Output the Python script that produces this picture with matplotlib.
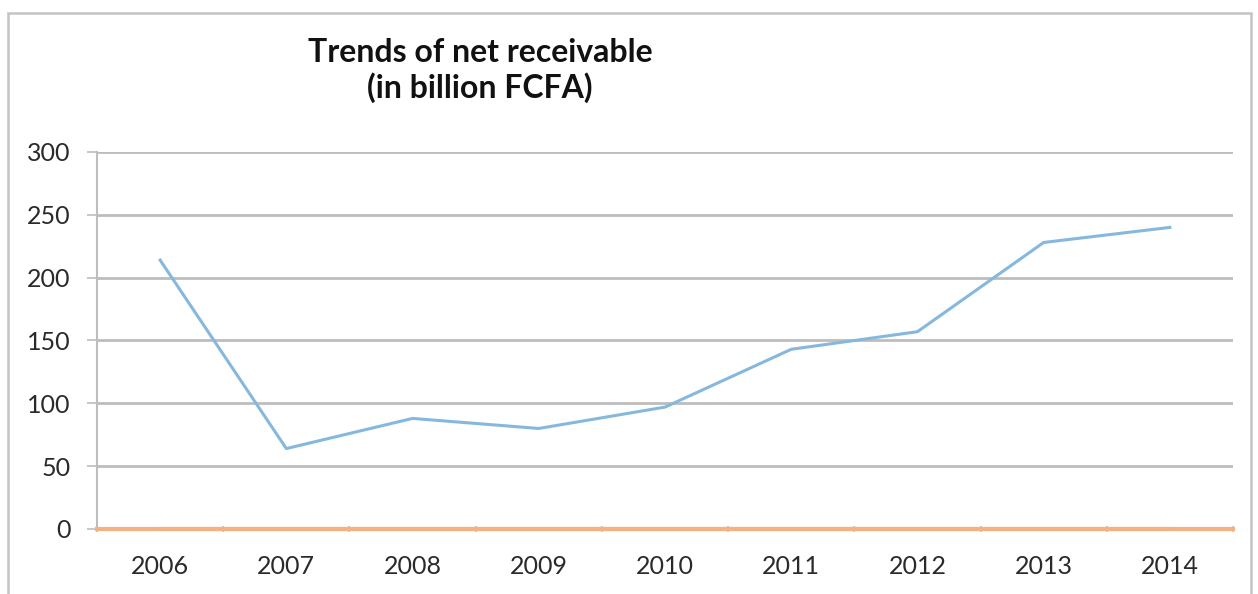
import matplotlib
matplotlib.use("Agg")
import matplotlib.pyplot as plt
from matplotlib.patches import Rectangle

years = ["2006", "2007", "2008", "2009", "2010", "2011", "2012", "2013", "2014"]
net_receivable = [214, 64, 88, 80, 97, 143, 157, 228, 240]
baseline = [0, 0, 0, 0, 0, 0, 0, 0, 0]
y_ticks = [0, 50, 100, 150, 200, 250, 300]

plt.rcParams["font.family"] = ["Lato", "DejaVu Sans"]

W, H = 1258, 594
fig = plt.figure(figsize=(W / 100, H / 100), dpi=100)
fig.patch.set_facecolor("white")

# outer chart frame
fig.patches.append(Rectangle((8 / W, -0.05), (1251 - 8) / W, 1.05 - 13 / H,
                             transform=fig.transFigure, fill=False,
                             edgecolor="#c4c4c4", linewidth=1.8))

ax = fig.add_axes([97 / W, 1 - 529 / H, (1233 - 97) / W, (529 - 152) / H])
x = list(range(len(years)))

ax.set_xlim(-0.5, len(years) - 0.5)
ax.set_ylim(0, 300)
ax.set_yticks(y_ticks)
ax.set_yticklabels([str(v) for v in y_ticks], fontsize=18, color="#2a2a2a")
ax.tick_params(axis="y", length=7, width=1.2, color="#bdbdbd", pad=12)

ax.set_xticks(x)
ax.set_xticklabels(years, fontsize=18, color="#2a2a2a")
ax.set_xticks([i - 0.5 for i in range(len(years) + 1)], minor=True)
ax.tick_params(axis="x", which="major", length=0, pad=19)
ax.tick_params(axis="x", which="minor", length=5, width=1.2, color="#bdbdbd", direction="inout")

ax.yaxis.grid(True, color="#bdbdbd", linewidth=2)
ax.set_axisbelow(True)
for s in ["top", "right", "bottom"]:
    ax.spines[s].set_visible(False)
ax.spines["left"].set_color("#bdbdbd")
ax.spines["left"].set_linewidth(1.5)

ax.plot([-0.5, len(years) - 0.5], [0, 0], color="#f4b183", linewidth=3,
        clip_on=False, zorder=3)
ax.plot(x, baseline, color="#f4b183", linewidth=3, clip_on=False, zorder=3)
ax.plot(x, net_receivable, color="#86b8de", linewidth=2.2, zorder=4)

fig.text(480 / W, 1 - 52 / H, "Trends of net receivable",
         ha="center", va="center", fontsize=23, fontweight="bold", color="#111111")
fig.text(480 / W, 1 - 88 / H, "(in billion FCFA)",
         ha="center", va="center", fontsize=23, fontweight="bold", color="#111111")

fig.savefig("out.png", dpi=100)
